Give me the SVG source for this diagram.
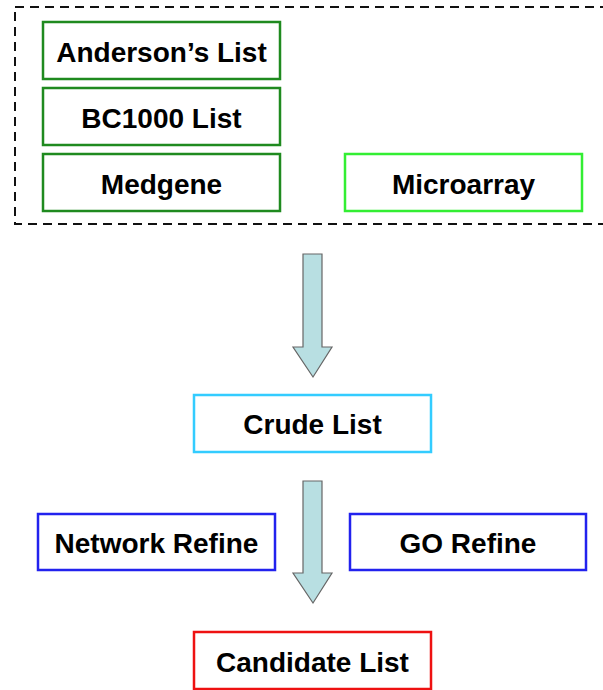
<svg xmlns="http://www.w3.org/2000/svg" width="603" height="690" viewBox="0 0 603 690">
<style>
.box{fill:#fff;stroke-width:2.5}
.g{stroke:#1f8a1f}
.lg{stroke:#33ee33}
.c{stroke:#33ccff}
.b{stroke:#2222ee}
.r{stroke:#ee1111}
text{font-family:"Liberation Sans",Arial,sans-serif;font-weight:bold;font-size:28px;fill:#000;text-anchor:middle}
.arrow{fill:#b8dfe2;stroke:#666;stroke-width:1.2}
</style>
<rect x="15" y="7" width="600" height="217" fill="none" stroke="#111" stroke-width="2" stroke-dasharray="9,6"/>
<g id="anderson"><rect class="box g" x="43" y="22" width="237" height="57"/><text x="161.5" y="62">Anderson’s List</text></g>
<g id="bc1000"><rect class="box g" x="43" y="88" width="237" height="57"/><text x="161.5" y="128">BC1000 List</text></g>
<g id="medgene"><rect class="box g" x="43" y="154" width="237" height="57"/><text x="161.5" y="194">Medgene</text></g>
<g id="microarray"><rect class="box lg" x="345" y="154" width="237" height="57"/><text x="463.5" y="194">Microarray</text></g>
<g id="crude"><rect class="box c" x="194" y="395" width="237" height="57"/><text x="312.5" y="434">Crude List</text></g>
<g id="network"><rect class="box b" x="38" y="514" width="237" height="56"/><text x="156.5" y="553">Network Refine</text></g>
<g id="go"><rect class="box b" x="350" y="514" width="236" height="56"/><text x="468" y="553">GO Refine</text></g>
<g id="candidate"><rect class="box r" x="194" y="632" width="237" height="57"/><text x="312.5" y="672">Candidate List</text></g>
<g id="connectors">
<path class="arrow" d="M303,254 H322 V347 H332 L313,377 L293,347 H303 Z"/>
<path class="arrow" d="M303,481 H322 V573 H332 L313,603 L293,573 H303 Z"/>
</g>
</svg>
